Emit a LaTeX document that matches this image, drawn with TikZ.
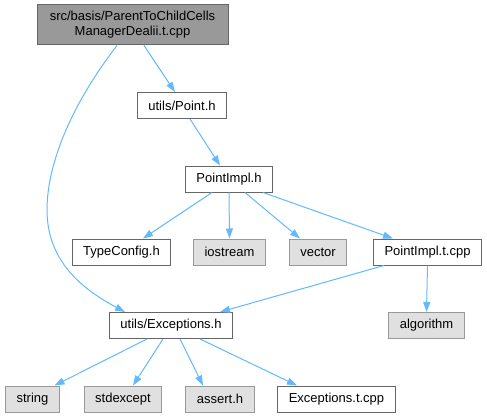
\documentclass[tikz,border=0pt]{standalone}
\usepackage{fontspec}
\setmainfont{Liberation Sans}
\definecolor{edgeblue}{RGB}{99,184,255}
\definecolor{darkframe}{RGB}{102,102,102}
\definecolor{lightframe}{RGB}{153,153,153}
\definecolor{sysfill}{RGB}{224,224,224}
\definecolor{rootfill}{RGB}{153,153,153}
\usetikzlibrary{arrows.meta,positioning,calc}

\begin{document}
\begin{tikzpicture}[x=1pt, y=-1pt,
    file/.style={rectangle, draw=darkframe, fill=white, line width=1pt,
                 minimum height=26pt, inner xsep=11pt, align=center,
                 font=\fontsize{13}{15}\selectfont},
    sysfile/.style={file, draw=lightframe, fill=sysfill},
    rootfile/.style={file, fill=rootfill, minimum height=40pt,
                     minimum width=191pt},
    dep/.style={-{Triangle[length=10pt,width=7pt]}, edgeblue, line width=1pt}]

\useasboundingbox (0,0) rectangle (487,417);

\node[rootfile] (root) at (132.5,25) {src/basis/ParentToChildCells\\ManagerDealii.t.cpp};
\node[file] (point) at (182,105.5) {utils/Point.h};
\node[file] (pimpl) at (229,179) {PointImpl.h};
\node[file] (tconf) at (121.5,252) {TypeConfig.h};
\node[sysfile] (iostr) at (229.5,252) {iostream};
\node[sysfile] (vect) at (318,252) {vector};
\node[file] (pimplt) at (427.5,252) {PointImpl.t.cpp};
\node[file] (exc) at (171,325.5) {utils/Exceptions.h};
\node[sysfile] (algo) at (426.5,325.5) {algorithm};
\node[sysfile] (str) at (32.5,399) {string};
\node[sysfile] (stdex) at (123,399) {stdexcept};
\node[sysfile] (asrt) at (220,399) {assert.h};
\node[file] (exct) at (336.5,399) {Exceptions.t.cpp};

\draw[dep] ([xshift=11.5pt]root.south) -- ([xshift=-7pt]point.north);
\draw[dep] ([xshift=-15.5pt]root.south) .. controls (75,100) and (47,160) .. (47,210)
    .. controls (47,265) and (88,292) .. ([xshift=-46pt]exc.north);
\draw[dep] ([xshift=8pt]point.south) -- ([xshift=-9pt]pimpl.north);
\draw[dep] ([xshift=-17pt]pimpl.south) -- ([xshift=21.5pt]tconf.north);
\draw[dep] (pimpl.south) -- (iostr.north);
\draw[dep] ([xshift=16pt]pimpl.south) -- ([xshift=-18pt]vect.north);
\draw[dep] ([xshift=34pt]pimpl.south) -- ([xshift=-34.5pt]pimplt.north);
\draw[dep] ([xshift=-43.5pt]pimplt.south) -- ([xshift=49pt]exc.north);
\draw[dep] (pimplt.south) -- (algo.north);
\draw[dep] ([xshift=-24pt]exc.south) -- ([xshift=22pt]str.north);
\draw[dep] ([xshift=-8pt]exc.south) -- ([xshift=10pt]stdex.north);
\draw[dep] ([xshift=9pt]exc.south) -- ([xshift=-17pt]asrt.north);
\draw[dep] ([xshift=29pt]exc.south) -- ([xshift=-39.5pt]exct.north);
\end{tikzpicture}
\end{document}
